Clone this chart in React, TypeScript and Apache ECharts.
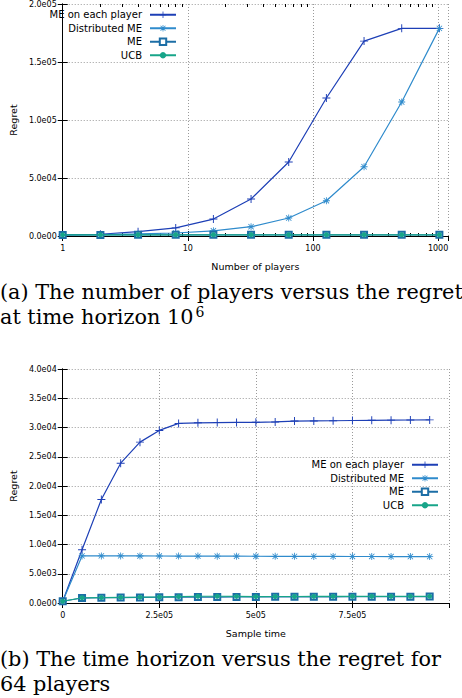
import React, { useEffect, useRef } from 'react';
import * as echarts from 'echarts';

// (a) number of players vs regret at horizon 1e6
const PLAYERS = [1, 2, 4, 8, 16, 32, 64, 128, 256, 512, 1024];
const ME_EACH_A = [1000, 1500, 3700, 7000, 14600, 31900, 63800, 119000, 168000, 179000, 179000];
const DIST_A = [1000, 1200, 1800, 2600, 4500, 8000, 15500, 30400, 59700, 115500, 179000];
const ME_A = [900, 950, 1000, 1000, 1050, 1000, 1000, 1050, 1000, 1000, 1000];
const UCB_A = [1000, 1000, 1050, 1050, 1050, 1050, 1050, 1050, 1050, 1050, 1050];

// (b) time horizon vs regret for 64 players
const SAMPLE_TIMES = [
  0, 50000, 100000, 150000, 200000, 250000, 300000, 350000, 400000, 450000,
  500000, 550000, 600000, 650000, 700000, 750000, 800000, 850000, 900000, 950000,
];
const ME_EACH_B = [
  300, 9100, 17700, 23900, 27500, 29500, 30700, 30800, 30850, 30870,
  30880, 30950, 31100, 31120, 31150, 31200, 31230, 31260, 31280, 31300,
];
const DIST_B = [
  300, 8050, 8050, 8050, 8040, 8030, 8020, 8020, 8010, 8000,
  7990, 7980, 7980, 7970, 7960, 7950, 7950, 7940, 7940, 7930,
];
const ME_B = [
  300, 850, 900, 920, 950, 980, 1000, 1010, 1020, 1030,
  1040, 1050, 1050, 1060, 1060, 1070, 1070, 1080, 1080, 1090,
];
const UCB_B = [
  300, 900, 930, 960, 990, 1030, 1090, 1150, 1150, 1120,
  1100, 1110, 1110, 1120, 1120, 1130, 1130, 1130, 1140, 1140,
];

const NAMES = ['ME on each player', 'Distributed ME', 'ME', 'UCB'];
const COLORS = ['#1d3fb6', '#2f8bcc', '#1c6ea6', '#17a589'];

const PLUS = 'path://M4.4,0H5.6V10H4.4Z M0,4.4H10V5.6H0Z';
const STAR =
  'path://M4.4,0H5.6V10H4.4Z M0,4.4H10V5.6H0Z M0.8,1.6L1.6,0.8L9.2,8.4L8.4,9.2Z M8.4,0.8L9.2,1.6L1.6,9.2L0.8,8.4Z';

const SANS = 'DejaVu Sans';
const SERIF = 'DejaVu Serif';
const CAPTION = 20.8;
const X_MAX_A = 1200;

// minor ticks of the log axis, placed on a hidden linear axis in log10 space
const minorLogTicks: number[] = [];
for (let d = 0; d < 4; d++) {
  for (let k = 2; k <= 9; k++) {
    const v = k * Math.pow(10, d);
    if (v < X_MAX_A) minorLogTicks.push(Math.log10(v));
  }
}

const expLabel = (v: number) => {
  const [m, e] = v.toExponential(1).split('e');
  return m + 'e' + String(Math.abs(Number(e))).padStart(2, '0');
};
const timeLabel = (v: number) => {
  if (v === 0) return '0';
  const [m, e] = v.toExponential().split('e');
  return m + 'e' + String(Math.abs(Number(e))).padStart(2, '0');
};

const grid = { color: '#9a9a9a', type: [1, 2] as any, width: 1 };
const blackLine = { show: true, lineStyle: { color: '#000', width: 1 } };
const nameStyle = { fontFamily: SANS, fontSize: 9.5, color: '#000' };

export default function App() {
  const ref = useRef<HTMLDivElement>(null);

  useEffect(() => {
    if (!ref.current) return;
    const chart = echarts.init(ref.current, null, { renderer: 'svg' });

    const symbols = [PLUS, STAR, 'emptyRect', 'circle'];
    const sizes = [8, 7, 6, 5];
    const mk = (i: number, xs: number[], ys: number[], xi: number, yi: number) => ({
      name: NAMES[i],
      type: 'line',
      xAxisIndex: xi,
      yAxisIndex: yi,
      data: xs.map((x, j) => [x, ys[j]]),
      symbol: symbols[i],
      symbolSize: sizes[i],
      showAllSymbol: true,
      color: COLORS[i],
      lineStyle: { width: 1.2, color: COLORS[i] },
      itemStyle: { color: COLORS[i], borderColor: COLORS[i], borderWidth: i === 2 ? 1.2 : 0 },
      z: 3 + i,
    });

    const legendBase = {
      orient: 'vertical',
      align: 'right',
      padding: 0,
      itemWidth: 26,
      itemHeight: 8,
      itemGap: 2,
      selectedMode: false,
      textStyle: { fontFamily: SANS, fontSize: 10, color: '#000', lineHeight: 11.5, padding: [0, 3, 0, 0] },
      data: NAMES,
    };

    const caption = (text: string, top: number) => ({
      type: 'text',
      left: 0,
      top,
      style: { text, font: `${CAPTION}px "${SERIF}"`, fill: '#000' },
    });

    const option: any = {
      animation: false,
      backgroundColor: '#fff',
      grid: [
        { left: 55, top: 4, width: 393, height: 232 },
        { left: 54, top: 369, width: 395, height: 234 },
      ],
      legend: [
        { ...legendBase, right: 462 - 177, top: 9 },
        { ...legendBase, right: 23, top: 459 },
      ],
      xAxis: [
        {
          gridIndex: 0,
          type: 'log',
          logBase: 10,
          min: 1,
          max: X_MAX_A,
          position: 'bottom',
          axisLine: blackLine,
          axisTick: { inside: true, length: 5, lineStyle: { color: '#000' } },
          axisLabel: {
            fontFamily: SANS,
            fontSize: 8,
            color: '#000',
            margin: 8,
            showMaxLabel: false,
            formatter: (v: number) => String(Math.round(v)),
          },
          splitLine: { show: true, lineStyle: grid },
          name: 'Number of players',
          nameLocation: 'middle',
          nameGap: 25,
          nameTextStyle: nameStyle,
        },
        {
          gridIndex: 0,
          type: 'log',
          logBase: 10,
          min: 1,
          max: X_MAX_A,
          position: 'top',
          axisLine: blackLine,
          axisTick: { inside: true, length: 5, lineStyle: { color: '#000' } },
          axisLabel: { show: false },
          splitLine: { show: false },
        },
        {
          gridIndex: 0,
          type: 'value',
          min: 0,
          max: Math.log10(X_MAX_A),
          position: 'bottom',
          axisLine: { show: false },
          axisTick: { show: true, inside: true, length: 3, customValues: minorLogTicks, lineStyle: { color: '#000' } },
          axisLabel: { show: false },
          splitLine: { show: false },
        },
        {
          gridIndex: 0,
          type: 'value',
          min: 0,
          max: Math.log10(X_MAX_A),
          position: 'top',
          axisLine: { show: false },
          axisTick: { show: true, inside: true, length: 3, customValues: minorLogTicks, lineStyle: { color: '#000' } },
          axisLabel: { show: false },
          splitLine: { show: false },
        },
        {
          gridIndex: 1,
          type: 'value',
          min: 0,
          max: 1000000,
          interval: 250000,
          position: 'bottom',
          axisLine: blackLine,
          axisTick: { inside: true, length: 5, lineStyle: { color: '#000' } },
          axisLabel: {
            fontFamily: SANS,
            fontSize: 8,
            color: '#000',
            margin: 8,
            showMaxLabel: false,
            formatter: timeLabel,
          },
          splitLine: { show: true, lineStyle: grid },
          name: 'Sample time',
          nameLocation: 'middle',
          nameGap: 25,
          nameTextStyle: nameStyle,
        },
        {
          gridIndex: 1,
          type: 'value',
          min: 0,
          max: 1000000,
          interval: 250000,
          position: 'top',
          axisLine: blackLine,
          axisTick: { inside: true, length: 5, lineStyle: { color: '#000' } },
          axisLabel: { show: false },
          splitLine: { show: false },
        },
      ],
      yAxis: [
        {
          gridIndex: 0,
          type: 'value',
          min: 0,
          max: 200000,
          interval: 50000,
          position: 'left',
          axisLine: blackLine,
          axisTick: { inside: true, length: 5, lineStyle: { color: '#000' } },
          axisLabel: { fontFamily: SANS, fontSize: 8, color: '#000', margin: 6, formatter: expLabel },
          splitLine: { show: true, lineStyle: grid },
          name: 'Regret',
          nameLocation: 'middle',
          nameGap: 40,
          nameTextStyle: nameStyle,
        },
        {
          gridIndex: 0,
          type: 'value',
          min: 0,
          max: 200000,
          interval: 50000,
          position: 'right',
          axisLine: blackLine,
          axisTick: { inside: true, length: 5, lineStyle: { color: '#000' } },
          axisLabel: { show: false },
          splitLine: { show: false },
        },
        {
          gridIndex: 1,
          type: 'value',
          min: 0,
          max: 40000,
          interval: 5000,
          position: 'left',
          axisLine: blackLine,
          axisTick: { inside: true, length: 5, lineStyle: { color: '#000' } },
          axisLabel: { fontFamily: SANS, fontSize: 8, color: '#000', margin: 6, formatter: expLabel },
          splitLine: { show: true, lineStyle: grid },
          name: 'Regret',
          nameLocation: 'middle',
          nameGap: 39,
          nameTextStyle: nameStyle,
        },
        {
          gridIndex: 1,
          type: 'value',
          min: 0,
          max: 40000,
          interval: 5000,
          position: 'right',
          axisLine: blackLine,
          axisTick: { inside: true, length: 5, lineStyle: { color: '#000' } },
          axisLabel: { show: false },
          splitLine: { show: false },
        },
      ],
      series: [
        mk(0, PLAYERS, ME_EACH_A, 0, 0),
        mk(1, PLAYERS, DIST_A, 0, 0),
        mk(2, PLAYERS, ME_A, 0, 0),
        mk(3, PLAYERS, UCB_A, 0, 0),
        mk(0, SAMPLE_TIMES, ME_EACH_B, 4, 2),
        mk(1, SAMPLE_TIMES, DIST_B, 4, 2),
        mk(2, SAMPLE_TIMES, ME_B, 4, 2),
        mk(3, SAMPLE_TIMES, UCB_B, 4, 2),
      ],
      graphic: [
        caption('(a) The number of players versus the regret', 281),
        {
          type: 'text',
          left: 0,
          top: 305,
          style: {
            text: '{t|at time horizon 10}{s|6}',
            fill: '#000',
            rich: {
              t: { fontFamily: SERIF, fontSize: CAPTION, verticalAlign: 'bottom' },
              s: { fontFamily: SERIF, fontSize: 14, verticalAlign: 'top', padding: [0, 0, 8, 2] },
            },
          },
        },
        caption('(b) The time horizon versus the regret for', 648),
        caption('64 players', 673),
      ],
    };

    chart.setOption(option);
    return () => chart.dispose();
  }, []);

  return (
    <div
      ref={ref}
      style={{ position: 'absolute', left: 0, top: 0, width: 462, height: 698, background: '#fff' }}
    />
  );
}
